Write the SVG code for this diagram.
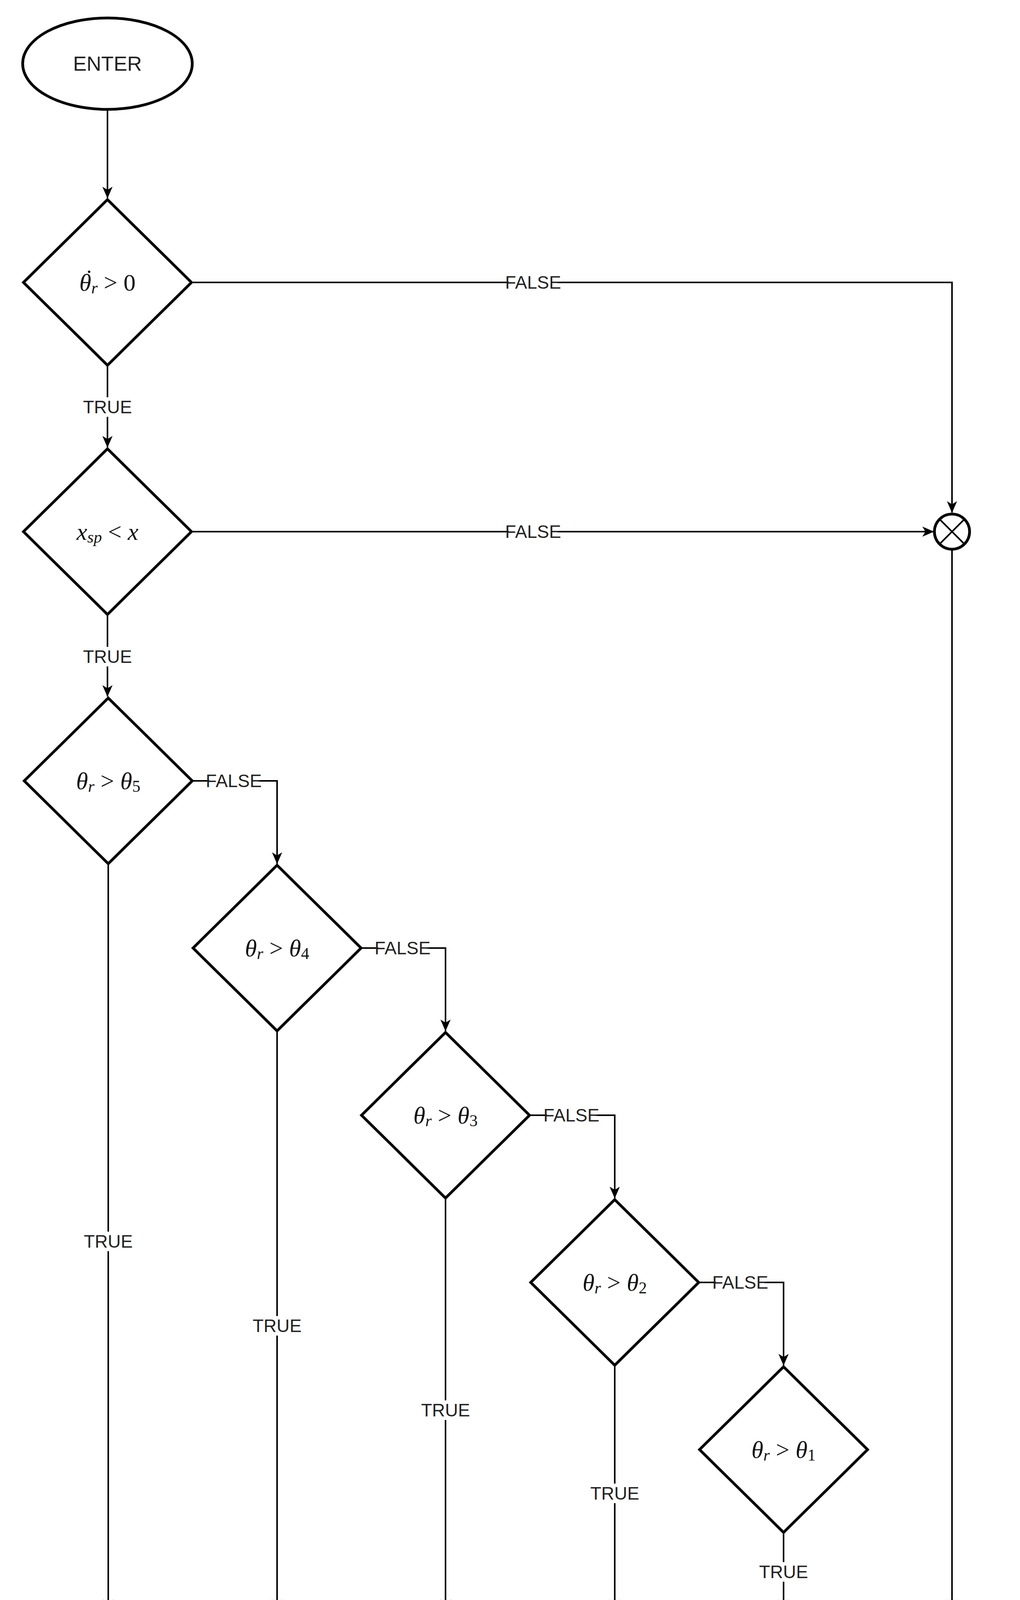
<svg xmlns="http://www.w3.org/2000/svg" width="2610" height="5106" viewBox="0 0 2610 5106">
<style>
.n{fill:#fff;stroke:#000;stroke-width:7}
.c{fill:none;stroke:#000;stroke-width:4}
.l{font-family:"Liberation Sans",Arial,sans-serif;font-size:46px;fill:#222;text-anchor:middle;dominant-baseline:central}
.t{font-family:"Liberation Sans",Arial,sans-serif;font-size:52px;fill:#222;text-anchor:middle;dominant-baseline:central}
.m{font-family:"Liberation Serif","Times New Roman",serif;font-size:62px;font-style:italic;fill:#111;text-anchor:middle;dominant-baseline:central}
.s{font-size:42px}
</style>
<defs>
<marker id="a" markerWidth="30" markerHeight="26" refX="29" refY="13" orient="auto" markerUnits="userSpaceOnUse" viewBox="0 0 30 26">
<path d="M0,0 L30,13 L0,26 L8,13 z" fill="#000"/>
</marker>
</defs>
<g id="connectors">
<path class="c" d="M275,280 V507" marker-end="url(#a)"/>
<path class="c" d="M490,723 H2436 V1312" marker-end="url(#a)"/>
<path class="c" d="M275,935 V1145" marker-end="url(#a)"/>
<path class="c" d="M490,1361 H2389" marker-end="url(#a)"/>
<path class="c" d="M275,1573 V1783" marker-end="url(#a)"/>
<path class="c" d="M2436,1406 V4124" marker-end="url(#a)"/>
<path class="c" d="M490,1999 H709 V2211" marker-end="url(#a)"/>
<path class="c" d="M924,2427 H1140 V2639" marker-end="url(#a)"/>
<path class="c" d="M1355,2855 H1573 V3067" marker-end="url(#a)"/>
<path class="c" d="M1788,3283 H2005 V3495" marker-end="url(#a)"/>
<path class="c" d="M277,2211 V4124" marker-end="url(#a)"/>
<path class="c" d="M709,2639 V4124" marker-end="url(#a)"/>
<path class="c" d="M1140,3067 V4124" marker-end="url(#a)"/>
<path class="c" d="M1573,3495 V4124" marker-end="url(#a)"/>
<path class="c" d="M2005,3923 V4124" marker-end="url(#a)"/>
<path class="c" d="M277,4300 V4511" marker-end="url(#a)"/>
<path class="c" d="M709,4300 V4558 M1140,4300 V4558 M1573,4300 V4558 M2005,4300 V4558 M2436,4300 V4558"/>
<path class="c" d="M2436,4558 H324" marker-end="url(#a)"/>
<path class="c" d="M277,4603 V4813" marker-end="url(#a)"/>
<rect fill="#fff" x="1302" y="698" width="124" height="50"/><rect fill="#fff" x="1302" y="1336" width="124" height="50"/>
<rect fill="#fff" x="536" y="1974" width="124" height="50"/><rect fill="#fff" x="968" y="2402" width="124" height="50"/>
<rect fill="#fff" x="1400" y="2830" width="124" height="50"/><rect fill="#fff" x="1832" y="3258" width="124" height="50"/>
<rect fill="#fff" x="220" y="1017" width="110" height="50"/><rect fill="#fff" x="220" y="1656" width="110" height="50"/>
<rect fill="#fff" x="222" y="3153" width="110" height="50"/><rect fill="#fff" x="654" y="3369" width="110" height="50"/>
<rect fill="#fff" x="1085" y="3585" width="110" height="50"/><rect fill="#fff" x="1518" y="3798" width="110" height="50"/>
<rect fill="#fff" x="1950" y="3999" width="110" height="50"/>
<text class="l" x="1364" y="723">FALSE</text>
<text class="l" x="1364" y="1361">FALSE</text>
<text class="l" x="598" y="1999">FALSE</text>
<text class="l" x="1030" y="2427">FALSE</text>
<text class="l" x="1462" y="2855">FALSE</text>
<text class="l" x="1894" y="3283">FALSE</text>
<text class="l" x="275" y="1042">TRUE</text>
<text class="l" x="275" y="1681">TRUE</text>
<text class="l" x="277" y="3178">TRUE</text>
<text class="l" x="709" y="3394">TRUE</text>
<text class="l" x="1140" y="3610">TRUE</text>
<text class="l" x="1573" y="3823">TRUE</text>
<text class="l" x="2005" y="4024">TRUE</text>
</g>
<g id="enter"><ellipse class="n" cx="275" cy="163" rx="217" ry="117"/><text class="t" x="275" y="163">ENTER</text></g>
<g id="d1"><path class="n" d="M275,511 L490,723 L275,935 L60,723 z"/><text class="m" x="275" y="723">θ<tspan class="s" dy="14">r</tspan><tspan dy="-14" font-style="normal"> &gt; 0</tspan></text><text class="m" x="224" y="712">˙</text></g>
<g id="d2"><path class="n" d="M275,1149 L490,1361 L275,1573 L60,1361 z"/><text class="m" x="275" y="1361">x<tspan class="s" dy="14">sp</tspan><tspan dy="-14" font-style="normal"> &lt; </tspan>x</text></g>
<g id="d3"><path class="n" d="M277,1787 L492,1999 L277,2211 L62,1999 z"/><text class="m" x="277" y="1999">θ<tspan class="s" dy="14">r</tspan><tspan dy="-14" font-style="normal"> &gt; </tspan>θ<tspan class="s" dy="14" font-style="normal">5</tspan></text></g>
<g id="d4"><path class="n" d="M709,2215 L924,2427 L709,2639 L494,2427 z"/><text class="m" x="709" y="2427">θ<tspan class="s" dy="14">r</tspan><tspan dy="-14" font-style="normal"> &gt; </tspan>θ<tspan class="s" dy="14" font-style="normal">4</tspan></text></g>
<g id="d5"><path class="n" d="M1140,2643 L1355,2855 L1140,3067 L925,2855 z"/><text class="m" x="1140" y="2855">θ<tspan class="s" dy="14">r</tspan><tspan dy="-14" font-style="normal"> &gt; </tspan>θ<tspan class="s" dy="14" font-style="normal">3</tspan></text></g>
<g id="d6"><path class="n" d="M1573,3071 L1788,3283 L1573,3495 L1358,3283 z"/><text class="m" x="1573" y="3283">θ<tspan class="s" dy="14">r</tspan><tspan dy="-14" font-style="normal"> &gt; </tspan>θ<tspan class="s" dy="14" font-style="normal">2</tspan></text></g>
<g id="d7"><path class="n" d="M2005,3499 L2220,3711 L2005,3923 L1790,3711 z"/><text class="m" x="2005" y="3711">θ<tspan class="s" dy="14">r</tspan><tspan dy="-14" font-style="normal"> &gt; </tspan>θ<tspan class="s" dy="14" font-style="normal">1</tspan></text></g>
<g id="j1"><circle class="n" cx="2436" cy="1361" r="45" stroke-width="4"/><path class="c" d="M2404,1329 L2468,1393 M2468,1329 L2404,1393"/></g>
<g id="b5"><rect class="n" x="105" y="4126" width="344" height="174" stroke-width="5"/><text class="m" x="277" y="4213">a<tspan class="s" dy="14">d</tspan><tspan dy="-14" font-style="normal"> = </tspan>a<tspan class="s" dy="14" font-style="normal">5</tspan></text></g>
<g id="b4"><rect class="n" x="537" y="4126" width="344" height="174" stroke-width="5"/><text class="m" x="709" y="4213">a<tspan class="s" dy="14">d</tspan><tspan dy="-14" font-style="normal"> = </tspan>a<tspan class="s" dy="14" font-style="normal">4</tspan></text></g>
<g id="b3"><rect class="n" x="968" y="4126" width="344" height="174" stroke-width="5"/><text class="m" x="1140" y="4213">a<tspan class="s" dy="14">d</tspan><tspan dy="-14" font-style="normal"> = </tspan>a<tspan class="s" dy="14" font-style="normal">3</tspan></text></g>
<g id="b2"><rect class="n" x="1401" y="4126" width="344" height="174" stroke-width="5"/><text class="m" x="1573" y="4213">a<tspan class="s" dy="14">d</tspan><tspan dy="-14" font-style="normal"> = </tspan>a<tspan class="s" dy="14" font-style="normal">2</tspan></text></g>
<g id="b1"><rect class="n" x="1833" y="4126" width="344" height="174" stroke-width="5"/><text class="m" x="2005" y="4213">a<tspan class="s" dy="14">d</tspan><tspan dy="-14" font-style="normal"> = </tspan>a<tspan class="s" dy="14" font-style="normal">1</tspan></text></g>
<g id="bglim"><rect class="n" x="2264" y="4126" width="343" height="174" stroke-width="5"/><text class="m" x="2436" y="4213">a<tspan class="s" dy="14">d</tspan><tspan dy="-14" font-style="normal"> = </tspan>g<tspan class="s" dy="14">lim</tspan></text></g>
<g id="j2"><circle class="n" cx="277" cy="4558" r="45" stroke-width="4"/><path class="c" d="M245,4526 L309,4590 M309,4526 L245,4590"/></g>
<g id="exit"><rect class="n" x="62" y="4815" width="431" height="264" rx="130" ry="130"/><text class="t" x="277" y="4947">EXIT</text></g>
</svg>
